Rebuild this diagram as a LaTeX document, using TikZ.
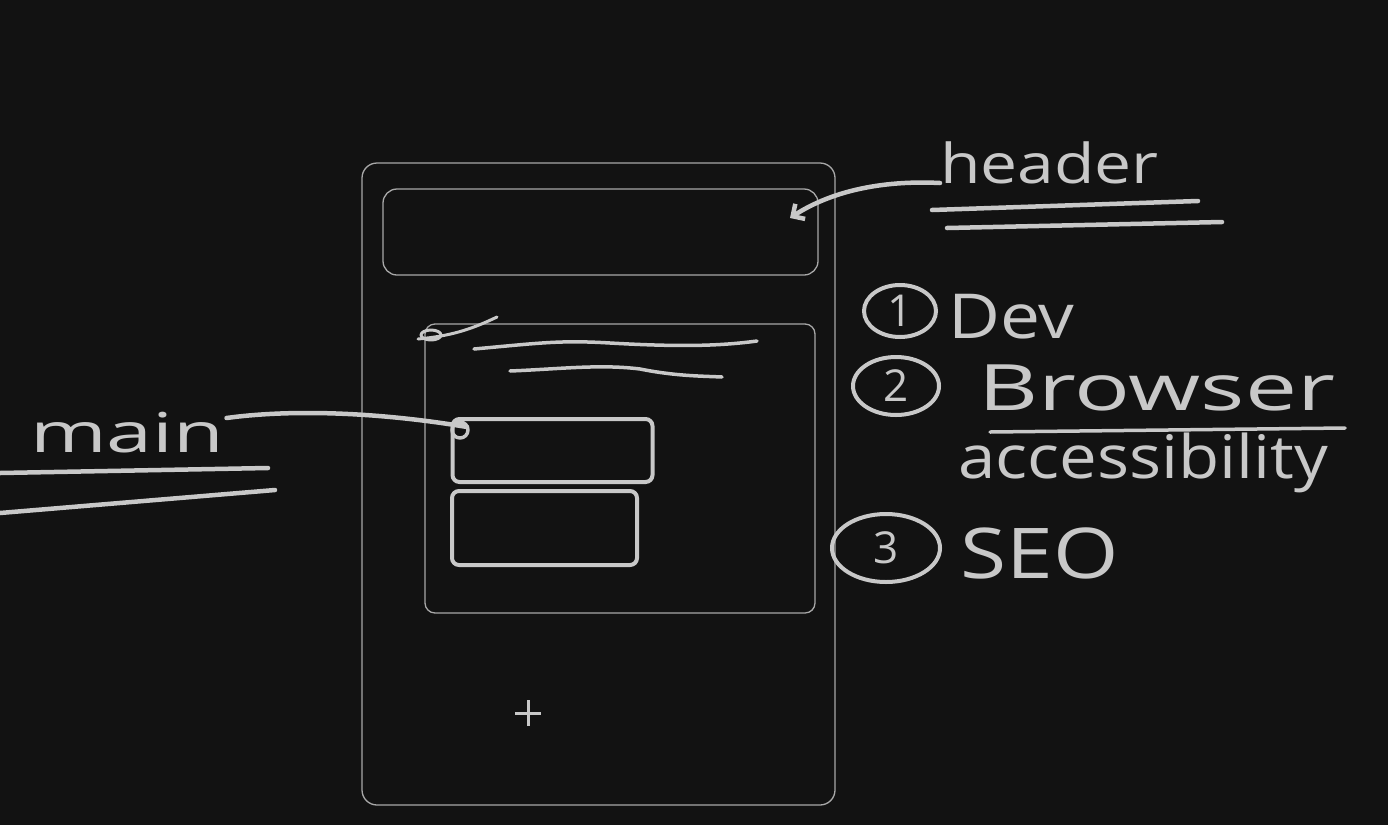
\documentclass[tikz,border=0pt]{standalone}
\usepackage{fontspec}
\setmainfont{Open Sans}
\usetikzlibrary{shapes.geometric,arrows.meta}
\definecolor{bg}{HTML}{121212}
\definecolor{framec}{HTML}{A8A8A8}
\definecolor{inkc}{HTML}{C8C8C8}
\tikzset{
  framebox/.style={draw=framec,line width=1.3pt,inner sep=0pt},
  ink/.style={draw=inkc,line width=4.5pt,line cap=round,line join=round},
  handbox/.style={draw=inkc,line width=4pt,rounded corners=7pt,inner sep=0pt},
  hand/.style={text=inkc,inner sep=0pt,anchor=base west},
  numcirc/.style={ellipse,draw=inkc,line width=4pt,text=inkc,inner sep=0pt,font=\fontsize{44}{48}\selectfont},
}
\begin{document}
\begin{tikzpicture}[x=1pt,y=-1pt]
\fill[bg] (0,0) rectangle (1388,825);
\useasboundingbox (0,0) rectangle (1388,825);

% wireframe
\node[framebox,rounded corners=15pt,minimum width=473pt,minimum height=642pt] (page) at (598.5,484) {};
\node[framebox,rounded corners=14pt,minimum width=435pt,minimum height=86pt] (hbox) at (600.5,232) {};
\node[framebox,rounded corners=10pt,minimum width=390pt,minimum height=289pt] (mbox) at (620,468.5) {};
\node[handbox,minimum width=200pt,minimum height=63pt] (box1) at (552.5,450.5) {};
\node[handbox,minimum width=185pt,minimum height=74pt] (box2) at (544.5,528) {};

% scribbles inside main
\draw[ink,line width=3.5pt] (474,349) .. controls (540,343) and (560,340) .. (610,343) .. controls (680,347) and (720,346) .. (757,341);
\draw[ink,line width=3.5pt] (510,371) .. controls (560,369) and (600,364) .. (640,369) .. controls (675,376) and (700,376) .. (722,377);
\draw[ink,line width=3pt] (497,317) .. controls (470,330) and (450,336) .. (418,339);
\draw[ink,line width=3pt] (431,335) ellipse (10pt and 5pt);

% plus
\coordinate (plus) at (528,713);
\draw[draw=inkc,line width=3pt] ([xshift=-13pt]plus) -- ([xshift=13pt]plus);
\draw[draw=inkc,line width=3pt] ([yshift=-13pt]plus) -- ([yshift=13pt]plus);

% header label
\node[hand,font=\fontsize{55}{60}\selectfont] (head) at (940,183) {\scalebox{1.2}[1]{header}};
\coordinate (harrow) at (790,218);
\draw[ink,-{Straight Barb[length=9pt,width=18pt]}] (head.base west) .. controls (880,180) and (830,192) .. (harrow);
\draw[ink] (932,210) -- (1198,201);
\draw[ink] (947,228) -- (1222,222);

% main label
\node[hand,font=\fontsize{55}{60}\selectfont] (mainlbl) at (30,452) {\scalebox{1.5}[1]{main}};
\coordinate (mend) at (467,427);
\draw[ink] ([xshift=2pt,yshift=34pt]mainlbl.base east) .. controls (300,408) and (390,414) .. (mend);
\draw[ink,line width=3.5pt] (460,430) circle (8pt);
\draw[ink] (0,473) -- (268,468);
\draw[ink] (0,513) -- (275,490);

% numbered list
\node[numcirc,minimum width=72pt,minimum height=52pt] (n1) at (900,311) {1};
\node[hand,font=\fontsize{62}{70}\selectfont] (dev) at (948,338) {\scalebox{1.15}[1]{Dev}};

\node[numcirc,minimum width=86pt,minimum height=58pt] (n2) at (896,386) {2};
\node[hand,font=\fontsize{64}{70}\selectfont] (browser) at (978,410) {\scalebox{1.45}[1]{Browser}};
\draw[ink,line width=3.5pt] (990,432) -- (1345,428);
\node[hand,font=\fontsize{60}{70}\selectfont] (access) at (958,478) {\scalebox{1.12}[1]{accessibility}};

\node[numcirc,minimum width=108pt,minimum height=68pt] (n3) at (886,548) {3};
\node[hand,font=\fontsize{70}{80}\selectfont] (seo) at (960,578) {\scalebox{1.2}[1]{SEO}};
\end{tikzpicture}
\end{document}
